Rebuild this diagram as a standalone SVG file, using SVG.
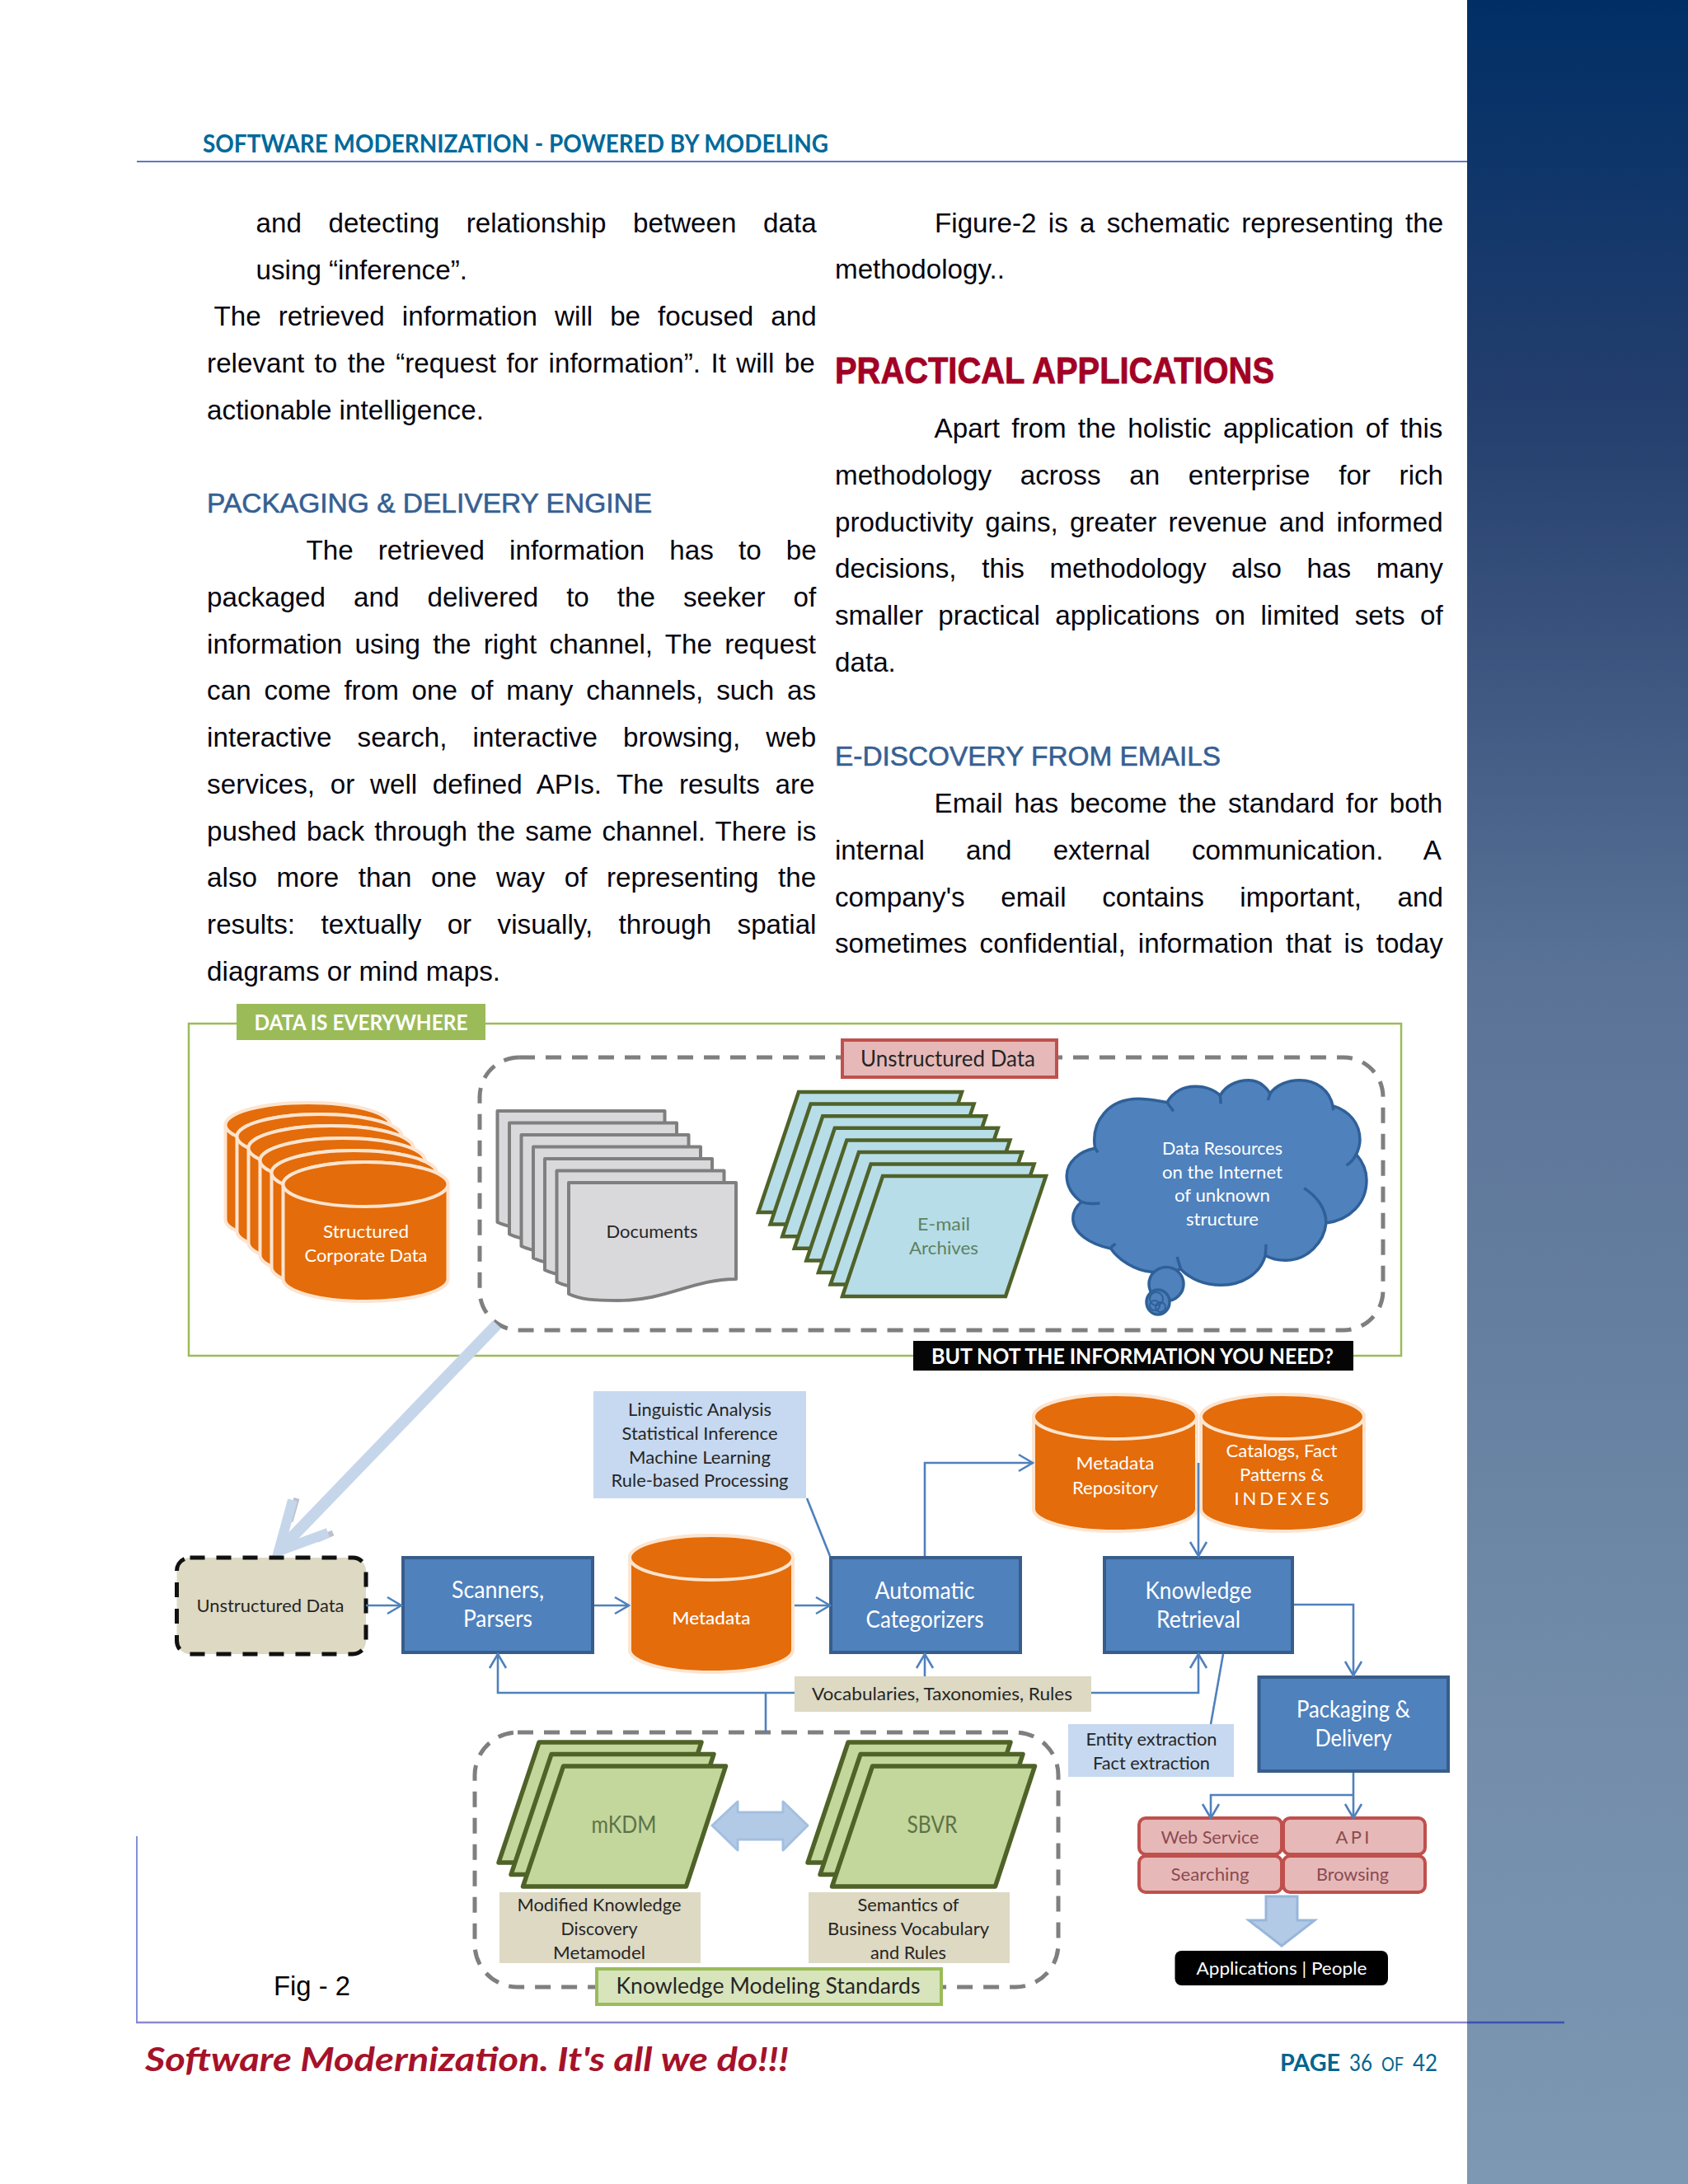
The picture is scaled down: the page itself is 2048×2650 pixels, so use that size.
<svg xmlns="http://www.w3.org/2000/svg" xmlns:xlink="http://www.w3.org/1999/xlink" width="2048" height="2650" viewBox="0 0 2048 2650">
<style>
text{font-family:"Lato","Liberation Sans",sans-serif}
.b{font-family:"Liberation Sans",Arial,sans-serif;font-size:33.2px;fill:#050510}
.h{font-family:"Liberation Sans",Arial,sans-serif;font-size:33px;fill:#366092;stroke:#366092;stroke-width:.6}
.m{text-anchor:middle}
.w{fill:#fff}
.d{fill:#262626}
.s21{font-size:22px}
.s24{font-size:25px}
.s27{font-size:28px}
.cyl{fill:#e46c0a;stroke:#fde4cf;stroke-width:4}
.box{fill:#4f81bd;stroke:#385d8a;stroke-width:4}
.lb{fill:#c6d9f0}
.bg{fill:#ddd9c3}
.pk{fill:#e6b9b8;stroke:#c0504d;stroke-width:4}
.dash{fill:none;stroke:#7f7f7f;stroke-width:5;stroke-dasharray:19 13}
.doc{fill:#d9d9dc;stroke:#7f7f7f;stroke-width:4;stroke-linejoin:round}
.em{fill:#b7dde8;stroke:#4f6228;stroke-width:4.5}
.gr{fill:#c3d69b;stroke:#4f6228;stroke-width:5.5;stroke-linejoin:round}
.c{fill:none;stroke:#4f81bd;stroke-width:2.6}
.a{marker-end:url(#open)}
.cl{fill:#4f81bd;stroke:#2f6098;stroke-width:3.5}
.tick{fill:none;stroke:#2f6098;stroke-width:3.5;vector-effect:non-scaling-stroke}
.rd{fill:#8c4a50}
.pg{fill:#00658f}
</style>
<defs>
<linearGradient id="side" x1="0" y1="0" x2="0" y2="1">
<stop offset="0" stop-color="#002f66"/><stop offset=".19" stop-color="#253f6e"/><stop offset=".45" stop-color="#5a7397"/><stop offset=".8" stop-color="#738dab"/><stop offset="1" stop-color="#7c98b2"/>
</linearGradient>
<marker id="open" markerUnits="userSpaceOnUse" markerWidth="22" markerHeight="24" viewBox="0 0 22 24" refX="20" refY="12" orient="auto">
<path d="M3 2 L20 12 L3 22" fill="none" stroke="#4f81bd" stroke-width="2.6"/>
</marker>
<g id="cylA"><path class="cyl" d="M0 0V115A100 27 0 0 0 200 115V0A100 27 0 0 0 0 0Z"/><ellipse class="cyl" cx="100" cy="0" rx="100" ry="27"/></g>
<g id="cylB"><path class="cyl" d="M0 0V112A99 27 0 0 0 198 112V0A99 27 0 0 0 0 0Z"/><ellipse class="cyl" cx="99" cy="0" rx="99" ry="27"/></g>
<path id="doc" class="doc" d="M0 0H203V117C150 117 120 143 60 143C30 143 15 142 0 135Z"/>
<path id="em" class="em" d="M49 0H247L198 146H0Z"/>
<path id="gr" class="gr" d="M49 0H246L198 146H0Z"/>
</defs>

<rect width="2048" height="2650" fill="#fff"/>
<rect id="sidebar" x="1780" width="268" height="2650" fill="url(#side)"/>

<g id="page-header">
<text x="246" y="185" font-size="30" font-weight="700" fill="#00699a" textLength="759" lengthAdjust="spacingAndGlyphs">SOFTWARE MODERNIZATION - POWERED BY MODELING</text>
<line x1="166" y1="196" x2="1780" y2="196" stroke="#6076c8" stroke-width="2"/>
</g>

<g id="left-column" transform="translate(-.5 1)">
<text class="b" x="311" y="281" word-spacing="23.35">and detecting relationship between data</text>
<text class="b" x="311" y="338">using “inference”.</text>
<text class="b" x="260" y="394" word-spacing="11.8">The retrieved information will be focused and</text>
<text class="b" x="251.6" y="451" word-spacing="3.2">relevant to the “request for information”. It will be</text>
<text class="b" x="251.6" y="508">actionable intelligence.</text>
<text class="h" x="251.6" y="621" textLength="540" lengthAdjust="spacingAndGlyphs">PACKAGING &amp; DELIVERY ENGINE</text>
<text class="b" x="372" y="678" word-spacing="20.9">The retrieved information has to be</text>
<text class="b" x="251.6" y="734.75" word-spacing="24.8">packaged and delivered to the seeker of</text>
<text class="b" x="251.6" y="791.5" word-spacing="6.1">information using the right channel, The request</text>
<text class="b" x="251.6" y="848.25" word-spacing="6.6">can come from one of many channels, such as</text>
<text class="b" x="251.6" y="905" word-spacing="22">interactive search, interactive browsing, web</text>
<text class="b" x="251.6" y="961.75" word-spacing="9.5">services, or well defined APIs. The results are</text>
<text class="b" x="251.6" y="1018.5" word-spacing="2.9">pushed back through the same channel. There is</text>
<text class="b" x="251.6" y="1075.25" word-spacing="14.4">also more than one way of representing the</text>
<text class="b" x="251.6" y="1132" word-spacing="22.2">results: textually or visually, through spatial</text>
<text class="b" x="251.6" y="1188.75">diagrams or mind maps.</text>
</g>

<g id="right-column">
<text class="b" x="1134" y="281.5" word-spacing="5">Figure-2 is a schematic representing the</text>
<text class="b" x="1013" y="338">methodology..</text>
<text x="1013" y="465" font-size="44" font-weight="700" fill="#a20025" stroke="#a20025" stroke-width=".8" textLength="533" lengthAdjust="spacingAndGlyphs" style="font-family:'Liberation Sans',Arial,sans-serif">PRACTICAL APPLICATIONS</text>
<text class="b" x="1133.6" y="531" word-spacing="5.04">Apart from the holistic application of this</text>
<text class="b" x="1013" y="587.75" word-spacing="25.5">methodology across an enterprise for rich</text>
<text class="b" x="1013" y="644.5" word-spacing="5.1">productivity gains, greater revenue and informed</text>
<text class="b" x="1013" y="701.25" word-spacing="21.4">decisions, this methodology also has many</text>
<text class="b" x="1013" y="758" word-spacing="9.2">smaller practical applications on limited sets of</text>
<text class="b" x="1013" y="814.75">data.</text>
<text class="h" x="1013" y="929" textLength="468" lengthAdjust="spacingAndGlyphs">E-DISCOVERY FROM EMAILS</text>
<text class="b" x="1133.6" y="986" word-spacing="4.7">Email has become the standard for both</text>
<text class="b" x="1013" y="1042.75" word-spacing="41">internal and external communication. A</text>
<text class="b" x="1013" y="1099.5" word-spacing="34.4">company's email contains important, and</text>
<text class="b" x="1013" y="1156.25" word-spacing="5.9">sometimes confidential, information that is today</text>
</g>

<rect id="frame" x="229" y="1242" width="1471" height="403" fill="#fff" stroke="#9bbb59" stroke-width="2.5"/>
<g id="data-label"><rect x="287" y="1218" width="302" height="44" fill="#9bbb59"/><text class="m w" x="438" y="1250" font-size="26" font-weight="700" textLength="259" lengthAdjust="spacingAndGlyphs">DATA IS EVERYWHERE</text></g>
<rect id="unstructured-group" class="dash" x="582" y="1283" width="1096" height="331" rx="48" ry="48"/>
<g id="unstructured-label"><rect class="pk" x="1022" y="1262" width="260" height="45"/><text class="m d" x="1150" y="1294" font-size="26" textLength="212" lengthAdjust="spacingAndGlyphs">Unstructured Data</text></g>

<g id="structured-data">
<use href="#cylA" x="273.5" y="1365"/><use href="#cylA" x="287.5" y="1379"/><use href="#cylA" x="301.5" y="1393"/><use href="#cylA" x="315.5" y="1408"/><use href="#cylA" x="329.5" y="1423"/><use href="#cylA" x="343.5" y="1437"/>
<text class="m w s21" x="444" y="1502" textLength="104" lengthAdjust="spacingAndGlyphs">Structured</text>
<text class="m w s21" x="444" y="1531" textLength="149" lengthAdjust="spacingAndGlyphs">Corporate Data</text>
</g>

<g id="documents">
<use href="#doc" x="603.5" y="1348"/><use href="#doc" x="618" y="1362.5"/><use href="#doc" x="632.5" y="1377"/><use href="#doc" x="647" y="1391.5"/><use href="#doc" x="661" y="1406"/><use href="#doc" x="675.5" y="1420.5"/><use href="#doc" x="690" y="1435"/>
<text class="m d s21" x="791" y="1502" textLength="111" lengthAdjust="spacingAndGlyphs">Documents</text>
</g>

<g id="email-archives">
<use href="#em" x="920" y="1325"/><use href="#em" x="934.6" y="1339.6"/><use href="#em" x="949.2" y="1354.2"/><use href="#em" x="963.8" y="1368.8"/><use href="#em" x="978.4" y="1383.4"/><use href="#em" x="993" y="1398"/><use href="#em" x="1007.6" y="1412.6"/><use href="#em" x="1022" y="1427"/>
<text class="m s21" x="1145" y="1493" fill="#5d8263" textLength="64" lengthAdjust="spacingAndGlyphs">E-mail</text>
<text class="m s21" x="1145" y="1522" fill="#5d8263" textLength="84" lengthAdjust="spacingAndGlyphs">Archives</text>
</g>

<g id="cloud">
<g transform="translate(1100 1190) scale(.4464 .3333)">
<path class="cl" style="vector-effect:non-scaling-stroke" d="M512 610C500 510 550 430 630 430C665 430 690 440 708 442C725 405 750 385 785 385C815 385 840 400 852 418C865 385 895 362 930 362C955 362 975 385 988 410C1005 380 1035 362 1068 362C1115 362 1150 400 1158 455C1205 475 1232 520 1232 580C1232 600 1228 615 1222 632C1240 660 1250 690 1250 725C1250 810 1205 870 1140 882C1135 950 1090 1018 1030 1018C1010 1018 990 1012 975 1000C960 1070 910 1108 855 1108C810 1108 770 1085 745 1050C720 1060 690 1065 665 1060C620 1055 575 1015 555 975C500 960 452 920 452 865C452 840 462 820 475 805C450 780 435 750 435 710C435 660 470 620 512 610Z"/>
<path class="tick" d="M725 475C718 460 710 450 708 442M852 418L854 448M988 410L982 435M1158 455L1160 472M1222 632C1215 650 1205 665 1195 672M1140 882C1140 830 1115 785 1080 755M975 1000L977 960M745 1050L735 1005M555 975C555 968 560 965 568 958M475 805C490 812 510 812 525 810M512 610L520 625"/>
</g>
<ellipse class="cl" cx="1415" cy="1558" rx="21" ry="20.5"/>
<ellipse class="cl" cx="1405" cy="1580" rx="14" ry="15"/>
<circle cx="1403" cy="1576" r="8" fill="none" stroke="#2f6098" stroke-width="2"/>
<circle cx="1401" cy="1584" r="6" fill="none" stroke="#2f6098" stroke-width="2"/>
<circle cx="1408" cy="1586" r="6" fill="none" stroke="#2f6098" stroke-width="2"/>
<text class="m w s21" x="1483" y="1401" textLength="146" lengthAdjust="spacingAndGlyphs">Data Resources</text>
<text class="m w s21" x="1483" y="1430" textLength="146" lengthAdjust="spacingAndGlyphs">on the Internet</text>
<text class="m w s21" x="1483" y="1458" textLength="116" lengthAdjust="spacingAndGlyphs">of unknown</text>
<text class="m w s21" x="1483" y="1487" textLength="88" lengthAdjust="spacingAndGlyphs">structure</text>
</g>

<g id="not-info"><rect x="1108" y="1627" width="534" height="36" fill="#050505"/><text class="m w" x="1374" y="1655" font-size="26" font-weight="700" textLength="488" lengthAdjust="spacingAndGlyphs">BUT NOT THE INFORMATION YOU NEED?</text></g>

<g id="big-arrow" fill="none" stroke-linejoin="miter">
<path d="M360 1818L352 1846M404 1860L385 1868" stroke="#8f98a8" stroke-width="7" opacity=".6"/>
<path d="M603 1607L340 1880" stroke="#c6d6ea" stroke-width="14"/>
<path d="M355 1820L338 1882L398 1860" stroke="#c6d6ea" stroke-width="12"/>
</g>

<g id="unstructured-source"><rect x="214.5" y="1890" width="229.5" height="117" rx="16" fill="#ddd9c3" stroke="#111" stroke-width="5" stroke-dasharray="18 14"/><text class="m d s21" x="328" y="1956" textLength="179" lengthAdjust="spacingAndGlyphs">Unstructured Data</text></g>
<g id="scanners"><rect class="box" x="489" y="1890" width="230" height="115"/><text class="m w s27" x="604" y="1939" textLength="112" lengthAdjust="spacingAndGlyphs">Scanners,</text><text class="m w s27" x="604" y="1974" textLength="84" lengthAdjust="spacingAndGlyphs">Parsers</text></g>
<g id="metadata"><use href="#cylB" x="764" y="1890"/><text class="m w s21" x="863" y="1971" font-weight="500" textLength="95" lengthAdjust="spacingAndGlyphs">Metadata</text></g>
<g id="categorizers"><rect class="box" x="1008" y="1890" width="230" height="115"/><text class="m w s27" x="1122" y="1940" textLength="121" lengthAdjust="spacingAndGlyphs">Automatic</text><text class="m w s27" x="1122" y="1975" textLength="143" lengthAdjust="spacingAndGlyphs">Categorizers</text></g>
<g id="retrieval"><rect class="box" x="1340" y="1890" width="228" height="115"/><text class="m w s27" x="1454" y="1940" textLength="129" lengthAdjust="spacingAndGlyphs">Knowledge</text><text class="m w s27" x="1454" y="1975" textLength="102" lengthAdjust="spacingAndGlyphs">Retrieval</text></g>
<g id="packaging"><rect class="box" x="1527.5" y="2035" width="229.5" height="114"/><text class="m w s27" x="1642" y="2084" textLength="138" lengthAdjust="spacingAndGlyphs">Packaging &amp;</text><text class="m w s27" x="1642" y="2119" textLength="93" lengthAdjust="spacingAndGlyphs">Delivery</text></g>

<g id="analysis"><rect class="lb" x="720" y="1688" width="258" height="130"/>
<text class="m d s21" x="849" y="1718" textLength="174" lengthAdjust="spacingAndGlyphs">Linguistic Analysis</text>
<text class="m d s21" x="849" y="1747" textLength="189" lengthAdjust="spacingAndGlyphs">Statistical Inference</text>
<text class="m d s21" x="849" y="1776" textLength="172" lengthAdjust="spacingAndGlyphs">Machine Learning</text>
<text class="m d s21" x="849" y="1804" textLength="215" lengthAdjust="spacingAndGlyphs">Rule-based Processing</text></g>

<g id="metadata-repository"><use href="#cylB" x="1254" y="1719"/><text class="m w s21" x="1353" y="1783" textLength="95" lengthAdjust="spacingAndGlyphs">Metadata</text><text class="m w s21" x="1353" y="1813" textLength="104" lengthAdjust="spacingAndGlyphs">Repository</text></g>
<g id="catalogs"><use href="#cylB" x="1457" y="1719"/><text class="m w s21" x="1555" y="1768" textLength="135" lengthAdjust="spacingAndGlyphs">Catalogs, Fact</text><text class="m w s21" x="1555" y="1797" textLength="102" lengthAdjust="spacingAndGlyphs">Patterns &amp;</text><text class="m w s21" x="1555" y="1826" textLength="115" lengthAdjust="spacing">I N D E X E S</text></g>

<g id="vocabularies"><rect class="bg" x="964" y="2034" width="360" height="43"/><text class="m d s21" x="1143" y="2063" textLength="316" lengthAdjust="spacingAndGlyphs">Vocabularies, Taxonomies, Rules</text></g>
<g id="entity"><rect class="lb" x="1296" y="2092" width="201" height="64"/><text class="m d s21" x="1397" y="2118" textLength="159" lengthAdjust="spacingAndGlyphs">Entity extraction</text><text class="m d s21" x="1397" y="2147" textLength="142" lengthAdjust="spacingAndGlyphs">Fact extraction</text></g>

<rect id="standards-group" class="dash" x="576" y="2102" width="708" height="309" rx="52" ry="52"/>
<g id="mkdm"><use href="#gr" x="605" y="2114"/><use href="#gr" x="620" y="2128.5"/><use href="#gr" x="634.5" y="2143"/><text class="m s27" x="757" y="2224" fill="#5d7347" textLength="79" lengthAdjust="spacingAndGlyphs">mKDM</text></g>
<g id="sbvr"><use href="#gr" x="980" y="2114"/><use href="#gr" x="995" y="2128.5"/><use href="#gr" x="1009.5" y="2143"/><text class="m s27" x="1131" y="2224" fill="#5d7347" textLength="61" lengthAdjust="spacingAndGlyphs">SBVR</text></g>
<path id="double-arrow" d="M864 2215L895 2186V2199H950V2186L980 2215L950 2245V2232H895V2245Z" fill="#b3cae6" stroke="#a3bfe0" stroke-width="3" stroke-linejoin="round"/>
<g id="mkdm-note"><rect class="bg" x="606" y="2296" width="244" height="86"/><text class="m d s21" x="727" y="2319" textLength="199" lengthAdjust="spacingAndGlyphs">Modified Knowledge</text><text class="m d s21" x="727" y="2348" textLength="93" lengthAdjust="spacingAndGlyphs">Discovery</text><text class="m d s21" x="727" y="2377" textLength="112" lengthAdjust="spacingAndGlyphs">Metamodel</text></g>
<g id="sbvr-note"><rect class="bg" x="981" y="2296" width="244" height="86"/><text class="m d s21" x="1102" y="2319" textLength="123" lengthAdjust="spacingAndGlyphs">Semantics of</text><text class="m d s21" x="1102" y="2348" textLength="196" lengthAdjust="spacingAndGlyphs">Business Vocabulary</text><text class="m d s21" x="1102" y="2377" textLength="92" lengthAdjust="spacingAndGlyphs">and Rules</text></g>
<g id="standards-label"><rect x="724" y="2389" width="418" height="43" fill="#d8e4bc" stroke="#9bbb59" stroke-width="4"/><text class="m d" x="932" y="2419" font-size="26" textLength="369" lengthAdjust="spacingAndGlyphs">Knowledge Modeling Standards</text></g>

<g id="channels">
<rect class="pk" x="1382" y="2206" width="173" height="44" rx="8"/><rect class="pk" x="1557" y="2206" width="172" height="44" rx="8"/>
<rect class="pk" x="1382" y="2252" width="173" height="44" rx="8"/><rect class="pk" x="1557" y="2252" width="172" height="44" rx="8"/>
<text class="m rd s21" x="1468" y="2237" textLength="119" lengthAdjust="spacingAndGlyphs">Web Service</text>
<text class="m rd s21" x="1641" y="2237" textLength="41" lengthAdjust="spacing">A P I</text>
<text class="m rd s21" x="1468" y="2282" textLength="95" lengthAdjust="spacingAndGlyphs">Searching</text>
<text class="m rd s21" x="1641" y="2282" textLength="88" lengthAdjust="spacingAndGlyphs">Browsing</text>
</g>
<path id="down-arrow" d="M1536 2301H1574V2330H1595L1555 2361L1515 2330H1536Z" fill="#b3cae6" stroke="#98b6da" stroke-width="3"/>
<g id="applications"><rect x="1425.5" y="2367" width="258.5" height="42" rx="8" fill="#000"/><text class="m w s21" x="1555" y="2396" textLength="207" lengthAdjust="spacingAndGlyphs">Applications | People</text></g>

<g id="connectors">
<path class="c a" d="M444 1948H487"/>
<path class="c a" d="M721 1948H763"/>
<path class="c a" d="M964 1948H1007"/>
<path class="c a" d="M1122 1888V1775H1253"/>
<path class="c a" d="M1454 1775V1888"/>
<path class="c a" d="M1570 1947H1642V2033"/>
<path class="c a" d="M964 2054H604V2007"/>
<path class="c a" d="M1122 2034V2007"/>
<path class="c a" d="M1324 2054H1454V2007"/>
<path class="c" d="M929 2054V2102"/>
<path class="c" d="M979 1818L1007 1888"/>
<path class="c" d="M1484 2007L1469 2092"/>
<path class="c a" d="M1642 2151V2206"/>
<path class="c a" d="M1642 2178H1469V2206"/>
</g>

<text id="fig-label" x="332" y="2421" font-size="33" fill="#000" textLength="93" lengthAdjust="spacingAndGlyphs" style="font-family:'Liberation Sans',Arial,sans-serif">Fig - 2</text>

<g id="footer">
<path d="M166 2228V2454" stroke="#5a6cc8" stroke-width="1.5" fill="none"/>
<path d="M165 2454H1780" stroke="#8d88cf" stroke-width="2.5" fill="none"/>
<path d="M1780 2454H1898" stroke="#3a52b0" stroke-width="2.5" fill="none"/>
<text x="176" y="2513" font-size="40" font-weight="700" font-style="italic" fill="#a5122a" textLength="781" lengthAdjust="spacingAndGlyphs">Software Modernization. It's all we do!!!</text>
<text class="pg" x="1553" y="2513" font-size="28" font-weight="700" textLength="73" lengthAdjust="spacingAndGlyphs">PAGE</text>
<text class="pg" x="1637" y="2513" font-size="29" textLength="28" lengthAdjust="spacingAndGlyphs">36</text>
<text class="pg" x="1676" y="2513" font-size="23" textLength="27" lengthAdjust="spacingAndGlyphs">OF</text>
<text class="pg" x="1714" y="2513" font-size="29" textLength="30" lengthAdjust="spacingAndGlyphs">42</text>
</g>
</svg>
